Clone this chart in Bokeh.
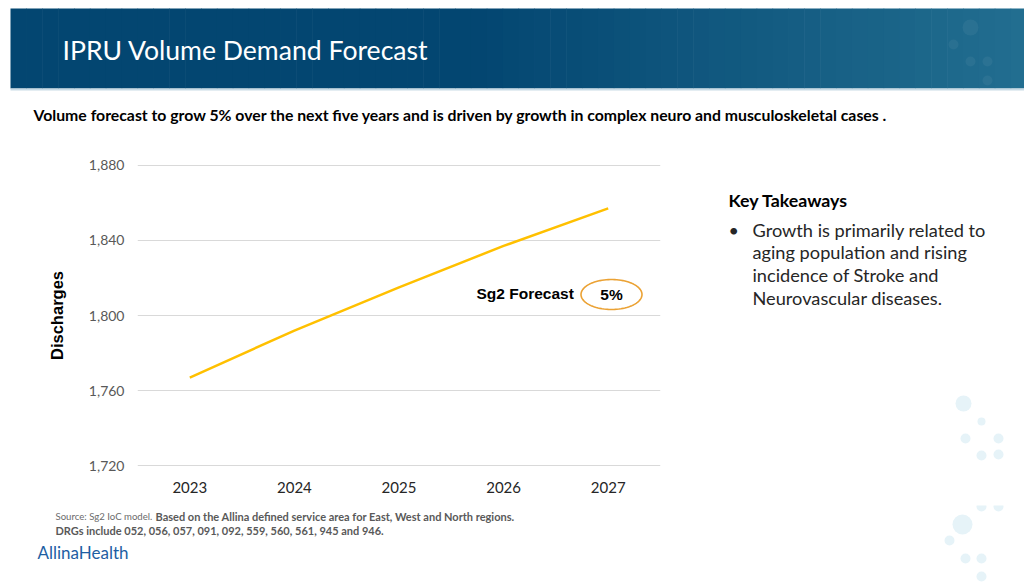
import math
from bokeh.plotting import figure
from bokeh.layouts import column, row
from bokeh.models import (FactorRange, Range1d, FixedTicker, NumeralTickFormatter,
                          Label, PolyAnnotation)
from bokeh.embed import file_html
from bokeh.resources import INLINE

# ---- data ----
years = ["2023", "2024", "2025", "2026", "2027"]
discharges = [1767, 1792, 1815, 1837, 1857]
y_ticks = [1720, 1760, 1800, 1840, 1880]

title_text = "IPRU Volume Demand Forecast"
subtitle_text = ("Volume forecast to grow 5% over the next five years and is driven by "
                 "growth in complex neuro and musculoskeletal cases  .")
takeaway_title = "Key Takeaways"
takeaway_lines = ["Growth is primarily related to", "aging population and rising",
                  "incidence of Stroke and", "Neurovascular diseases."]
source_a = "Source: Sg2 IoC model."
source_b = "Based on the Allina defined service area for East, West and North regions."
source_c = "DRGs include 052, 056, 057, 091, 092, 559, 560, 561, 945 and 946."
logo_text = "AllinaHealth"

# ---- page layout (pixel coordinates of the page) ----
W, H = 1024, 584
TOP_H = 140          # banner + subtitle strip
MID_H = 365          # chart row
CHART_W = 690
FL, FT, FR, FB = 137, 164, 660, 466   # chart frame on the page


def panel(x0, y0, w, h, y_top=None, y_bot=None):
    yt = y0 if y_top is None else y_top
    yb = y0 + h if y_bot is None else y_bot
    f = figure(width=w, height=h, x_range=Range1d(x0, x0 + w), y_range=Range1d(yb, yt),
               output_backend="svg", toolbar_location=None,
               x_axis_location=None, y_axis_location=None, min_border=0)
    f.outline_line_color = None
    f.grid.visible = False
    f.background_fill_color = "white"
    f.border_fill_color = "white"
    return f


def lab(f, px, py, text, size, color="#000000", font="Lato", style="normal",
        align="left", baseline="middle"):
    f.add_layout(Label(x=px, y=py, text=text, text_font=font, text_font_size=f"{size}px",
                       text_color=color, text_font_style=style, text_align=align,
                       text_baseline=baseline))


# ---------- top strip ----------
top = panel(0, 0, W, TOP_H)
c0 = (3, 70, 113)
c1 = (34, 110, 144)
n = 64
lefts, rights, cols = [], [], []
for i in range(n):
    t = i / (n - 1)
    t2 = max(0.0, (t - 0.45) / 0.55)
    col = tuple(int(c0[k] + (c1[k] - c0[k]) * t2) for k in range(3))
    lefts.append(10 + (1026 - 10) * i / n)
    rights.append(10 + (1026 - 10) * (i + 1) / n + 0.6)
    cols.append("#%02x%02x%02x" % col)
top.quad(left=lefts, right=rights, top=8, bottom=88, fill_color=cols, line_color=None)
top.quad(left=10, right=1026, top=88, bottom=90, fill_color="#c9dbe6", line_color=None)
top.circle(x=[970, 953, 970, 987, 987], y=[27, 44, 61, 61, 80], radius=[8, 5, 5, 5, 5],
           fill_color="#ffffff", fill_alpha=0.05, line_color=None)
lab(top, 62, 49, title_text, 26.6, color="#ffffff")
lab(top, 33, 114, subtitle_text, 15.8, style="bold")

# ---------- chart ----------
p = figure(width=CHART_W, height=MID_H, x_range=FactorRange(*years),
           y_range=Range1d(1719.7, 1880.3),
           output_backend="svg", toolbar_location=None,
           min_border_left=FL, min_border_top=FT - TOP_H,
           min_border_right=CHART_W - FR, min_border_bottom=TOP_H + MID_H - FB)
p.outline_line_color = None
p.background_fill_color = "white"
p.border_fill_color = "white"
p.xgrid.grid_line_color = None
p.ygrid.grid_line_color = "#d9d9d9"
p.ygrid.grid_line_width = 1

p.yaxis.ticker = FixedTicker(ticks=y_ticks)
p.yaxis.formatter = NumeralTickFormatter(format="0,0")
for ax in (p.xaxis[0], p.yaxis[0]):
    ax.axis_line_color = None
    ax.major_tick_line_color = None
    ax.minor_tick_line_color = None
    ax.major_tick_out = 0
    ax.major_tick_in = 0
p.yaxis.major_label_text_font = "Lato"
p.yaxis.major_label_text_font_size = "14px"
p.yaxis.major_label_text_color = "#595959"
p.yaxis.major_label_standoff = 13
p.yaxis.axis_label = "Discharges"
p.yaxis.axis_label_text_font = "Liberation Sans"
p.yaxis.axis_label_text_font_style = "bold"
p.yaxis.axis_label_text_font_size = "16.5px"
p.yaxis.axis_label_text_color = "#000000"
p.yaxis.axis_label_standoff = 20
p.xaxis.major_label_text_font = "Lato"
p.xaxis.major_label_text_font_size = "15px"
p.xaxis.major_label_text_color = "#262626"
p.xaxis.major_label_standoff = 15

p.line(x=years, y=discharges, line_color="#FFC000", line_width=2.5)


def sx(px):
    return px - FL


def sy(py):
    return FB - py


p.add_layout(Label(x=sx(476), y=sy(293), x_units="screen", y_units="screen",
                   text="Sg2 Forecast", text_font="Liberation Sans", text_font_size="15.5px",
                   text_font_style="bold", text_color="#000000", text_baseline="middle"))
ecx, ecy, ea, eb = 611, 294, 30.5, 15
exs = [sx(ecx + ea * math.cos(2 * math.pi * i / 90)) for i in range(90)]
eys = [sy(ecy + eb * math.sin(2 * math.pi * i / 90)) for i in range(90)]
p.add_layout(PolyAnnotation(xs=exs, ys=eys, xs_units="screen", ys_units="screen",
                            fill_color=None, fill_alpha=0, line_color="#EBA234",
                            line_width=1.6, line_alpha=1.0))
p.add_layout(Label(x=sx(611), y=sy(294), x_units="screen", y_units="screen",
                   text="5%", text_font="Liberation Sans", text_font_size="15.5px",
                   text_font_style="bold", text_color="#000000", text_align="center",
                   text_baseline="middle"))

# ---------- right text panel (its frame aligns with the chart frame: 164..466) ----------
right = panel(CHART_W, TOP_H, W - CHART_W, MID_H, y_top=FT, y_bot=FB)
lab(right, 728, 199, takeaway_title, 17.8, style="bold")
lab(right, 728, 229, "•", 18, color="#262626")
for i, t in enumerate(takeaway_lines):
    lab(right, 752, 229 + i * 22.7, t, 18.2, color="#262626")

dots = [(963, 403, 8), (981, 421, 4), (965, 438, 5), (998, 438, 5), (981, 455, 5),
        (998, 454, 5), (998, 488, 5), (981, 506, 5), (998, 506, 5), (962, 524, 10),
        (949, 540, 5), (965, 558, 5), (981, 558, 5), (981, 576, 5)]
right.circle(x=[d[0] for d in dots], y=[d[1] for d in dots], radius=[d[2] for d in dots],
             fill_color="#e6f3f8", line_color=None)

# ---------- bottom strip ----------
bottom = panel(0, TOP_H + MID_H, W, H - TOP_H - MID_H)
bottom.circle(x=[d[0] for d in dots], y=[d[1] for d in dots], radius=[d[2] for d in dots],
              fill_color="#e6f3f8", line_color=None)
lab(bottom, 55, 516, source_a, 9.6, color="#6b6b6b")
lab(bottom, 155, 516, source_b, 11, color="#595959", style="bold")
lab(bottom, 55, 530, source_c, 11, color="#595959", style="bold")
lab(bottom, 37, 552, logo_text, 17, color="#1d5ea3")

page = column(top, row(p, right), bottom)
open("out.html", "w").write(file_html(page, INLINE))
